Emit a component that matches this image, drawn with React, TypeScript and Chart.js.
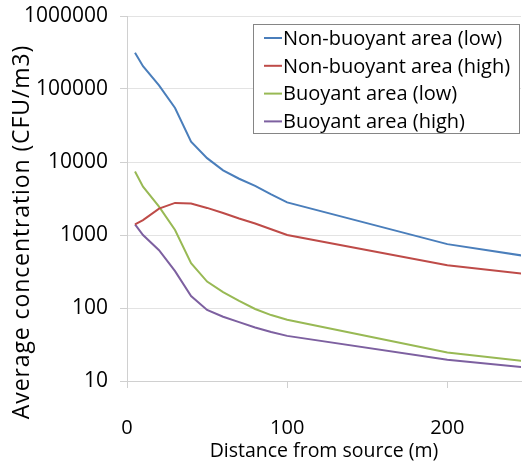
import React, { useEffect, useRef } from "react";
import { Chart, registerables } from "chart.js";

Chart.register(...registerables);

const distances = [5, 10, 20, 30, 40, 50, 60, 70, 80, 90, 100, 200, 250];
const nonBuoyantLow = [314000, 205000, 112000, 55000, 19000, 11300, 7700, 5900, 4700, 3600, 2800, 750, 510];
const nonBuoyantHigh = [1400, 1600, 2300, 2750, 2700, 2350, 2000, 1680, 1440, 1200, 1000, 385, 290];
const buoyantLow = [7400, 4600, 2450, 1170, 410, 230, 165, 125, 97, 80, 69, 24.5, 18.5];
const buoyantHigh = [1400, 1000, 620, 320, 146, 94, 76, 64, 54, 47, 41.5, 19.5, 15.2];
const seriesLabels = [
  "Non-buoyant area (low)",
  "Non-buoyant area (high)",
  "Buoyant area (low)",
  "Buoyant area (high)",
];
const seriesColors = ["#4A7EBB", "#BE4B48", "#98B954", "#7D60A0"];
const yTickValues = [10, 100, 1000, 10000, 100000, 1000000];
const xTickValues = [0, 100, 200];
const yTitle = "Average concentration (CFU/m3)";
const xTitle = "Distance from source (m)";

const FONT = "'Open Sans', sans-serif";

const boxLegend = {
  id: "boxLegend",
  afterDraw(chart: any) {
    const ctx = chart.ctx;
    const x0 = 253, y0 = 24, w = 266, h = 109;
    ctx.save();
    ctx.fillStyle = "#ffffff";
    ctx.fillRect(x0, y0, w, h);
    ctx.strokeStyle = "#858585";
    ctx.lineWidth = 1;
    ctx.strokeRect(x0 + 0.5, y0 + 0.5, w, h);
    ctx.font = `20px ${FONT}`;
    ctx.textBaseline = "middle";
    ctx.textAlign = "left";
    chart.data.datasets.forEach((ds: any, i: number) => {
      const y = 38 + i * 27.8;
      ctx.strokeStyle = ds.borderColor;
      ctx.lineWidth = 2;
      ctx.beginPath();
      ctx.moveTo(264, y);
      ctx.lineTo(282, y);
      ctx.stroke();
      ctx.fillStyle = "#000000";
      ctx.fillText(ds.label, 283, y + 1);
    });
    // y axis title
    ctx.save();
    ctx.translate(22, 232);
    ctx.rotate(-Math.PI / 2);
    ctx.font = `23px ${FONT}`;
    try { (ctx as any).letterSpacing = "0.9px"; } catch (e) {}
    ctx.textAlign = "center";
    ctx.textBaseline = "middle";
    ctx.fillStyle = "#000000";
    ctx.fillText(yTitle, 0, 0);
    ctx.restore();
    ctx.restore();
  },
};

export default function App() {
  const ref = useRef<HTMLCanvasElement | null>(null);
  useEffect(() => {
    if (!ref.current) return;
    const all = [nonBuoyantLow, nonBuoyantHigh, buoyantLow, buoyantHigh];
    const chart = new Chart(ref.current, {
      type: "line",
      data: {
        datasets: all.map((vals, i) => ({
          label: seriesLabels[i],
          data: distances.map((d, j) => ({ x: d, y: vals[j] })),
          borderColor: seriesColors[i],
          backgroundColor: seriesColors[i],
          borderWidth: 2,
          pointRadius: 0,
          tension: 0,
          fill: false,
        })),
      },
      options: {
        animation: false,
        responsive: false,
        layout: { padding: { top: 16, right: 1, left: 0, bottom: 0 } },
        plugins: { legend: { display: false }, tooltip: { enabled: false } },
        scales: {
          x: {
            type: "linear",
            min: 0,
            max: 246,
            afterBuildTicks: (s: any) => {
              s.ticks = xTickValues.map((v) => ({ value: v }));
            },
            afterFit: (s: any) => {
              s.height = 84;
              s.paddingLeft = 0;
              s.paddingRight = 0;
            },
            grid: { drawOnChartArea: false, drawTicks: true, tickLength: 7, tickColor: "#d0d0d0" },
            border: { color: "#d0d0d0", width: 1 },
            ticks: {
              color: "#000",
              font: { family: FONT, size: 20 },
              padding: 28,
              maxRotation: 0,
              callback: (v: any) => String(v),
            },
            title: {
              display: true,
              text: xTitle,
              color: "#000",
              font: { family: FONT, size: 19.5 },
              padding: { top: 0, bottom: 1.5 },
            },
          },
          y: {
            type: "logarithmic",
            min: 10,
            max: 1000000,
            afterBuildTicks: (s: any) => {
              s.ticks = yTickValues.map((v) => ({ value: v }));
            },
            afterFit: (s: any) => {
              s.width = 127;
              s.paddingTop = 0;
              s.paddingBottom = 0;
            },
            grid: { color: "#e3e3e3", drawTicks: true, tickLength: 7, tickColor: "#d0d0d0" },
            border: { color: "#d0d0d0", width: 1 },
            ticks: {
              color: "#000",
              font: { family: FONT, size: 21 },
              padding: 12,
              callback: (v: any) => String(v),
            },
            title: { display: false },
          },
        },
      },
      plugins: [boxLegend],
    });
    return () => chart.destroy();
  }, []);
  return (
    <div style={{ position: "absolute", left: 0, top: 0, width: 522, height: 465, background: "#fff" }}>
      <canvas ref={ref} width={522} height={465} style={{ width: 522, height: 465 }} />
    </div>
  );
}
